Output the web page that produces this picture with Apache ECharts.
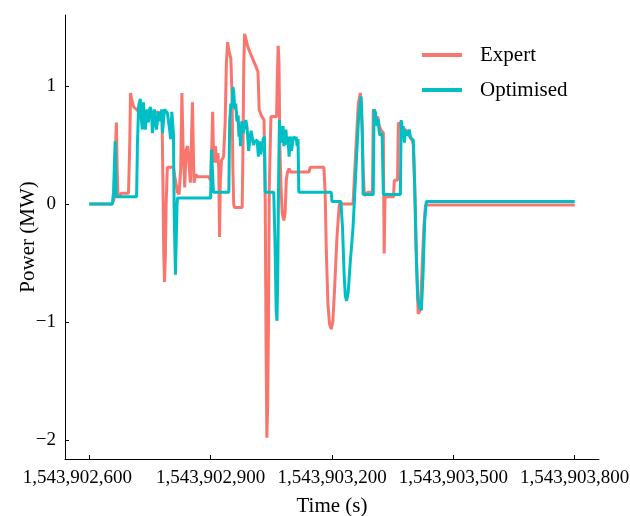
<!DOCTYPE html>
<html>
<head>
<meta charset="utf-8">
<script src="https://cdn.jsdelivr.net/npm/echarts@6/dist/echarts.min.js"></script>
<style>html,body{margin:0;padding:0;background:#fff}#c{width:630px;height:516px}</style>
</head>
<body>
<div id="c"></div>
<script>
const xTicks = [1543902600, 1543902900, 1543903200, 1543903500, 1543903800];
const yTicks = [-2, -1, 0, 1];

const expertTime = [1543902600,1543902657,1543902662,1543902665,1543902667,1543902669,1543902671,1543902677,1543902678,1543902697,1543902700,1543902702,1543902705,1543902710,1543902717,1543902722,1543902730,1543902740,1543902750,1543902760,1543902770,1543902776,1543902780,1543902782,1543902784,1543902786,1543902788,1543902790,1543902793,1543902808,1543902812,1543902818,1543902822,1543902826,1543902829,1543902832,1543902836,1543902839,1543902843,1543902847,1543902850,1543902853,1543902855,1543902857,1543902859,1543902863,1543902868,1543902895,1543902900,1543902903,1543902905,1543902907,1543902909,1543902912,1543902915,1543902918,1543902920,1543902922,1543902924,1543902927,1543902932,1543902936,1543902939,1543902942,1543902945,1543902950,1543902953,1543902955,1543902957,1543902959,1543902978,1543902980,1543902982,1543902984,1543902987,1543902992,1543902999,1543903010,1543903017,1543903020,1543903025,1543903032,1543903035,1543903037,1543903039,1543903041,1543903043,1543903045,1543903049,1543903063,1543903065,1543903067,1543903069,1543903071,1543903074,1543903077,1543903081,1543903084,1543903087,1543903090,1543903094,1543903097,1543903143,1543903146,1543903180,1543903183,1543903186,1543903190,1543903194,1543903198,1543903202,1543903206,1543903212,1543903218,1543903252,1543903258,1543903265,1543903270,1543903273,1543903277,1543903280,1543903284,1543903289,1543903300,1543903302,1543903305,1543903309,1543903313,1543903317,1543903322,1543903327,1543903328,1543903329,1543903331,1543903352,1543903354,1543903362,1543903364,1543903370,1543903376,1543903382,1543903390,1543903397,1543903401,1543903405,1543903409,1543903413,1543903418,1543903422,1543903427,1543903431,1543903800];
const expertPower = [0,0,0.05,0.5,0.69,0.3,0.06,0.07,0.09,0.09,0.5,0.94,0.88,0.82,0.8,0.78,0.79,0.77,0.75,0.77,0.78,0.76,0.72,0.2,-0.4,-0.66,-0.45,0,0.31,0.31,0.22,0.1,0.08,0.3,0.94,0.45,0.14,0.45,0.49,0.49,0.18,0.6,0.86,0.5,0.18,0.25,0.23,0.23,0.2,0.5,0.78,0.45,0.35,0.49,0.35,0.43,0.3,-0.28,0.2,0.37,0.4,0.7,1.2,1.37,1.3,1.23,0.9,0.3,0,-0.03,-0.03,0.5,1.2,1.44,1.4,1.33,1.27,1.18,1.12,0.8,0.75,0.71,0,-1.2,-1.98,-1.7,-0.99,0.14,0.74,0.74,1.1,1.34,1.2,0.5,0.14,-0.08,-0.14,-0.08,0.2,0.27,0.3,0.27,0.27,0.31,0.31,0.1,-0.4,-0.85,-1.02,-1.06,-1,-0.75,-0.3,0,0,0.4,0.85,0.94,0.8,0.3,0.07,0.08,0.1,0.1,0.8,0.78,0.72,0.74,0.66,0.62,0.6,0,-0.42,0.06,0.06,0.2,0.2,0.69,0.66,0.62,0.63,0.58,0.55,0.5,0.1,-0.5,-0.93,-0.9,-0.6,-0.2,-0.01,-0.01];

const optimisedTime = [1543902600,1543902657,1543902660,1543902664,1543902666,1543902667,1543902717,1543902719,1543902722,1543902726,1543902728,1543902731,1543902734,1543902736,1543902739,1543902741,1543902744,1543902746,1543902749,1543902751,1543902754,1543902756,1543902759,1543902761,1543902764,1543902766,1543902769,1543902771,1543902774,1543902776,1543902779,1543902781,1543902784,1543902786,1543902789,1543902793,1543902796,1543902799,1543902801,1543902804,1543902806,1543902808,1543902810,1543902813,1543902815,1543902817,1543902818,1543902900,1543902902,1543902905,1543902907,1543902945,1543902947,1543902950,1543902953,1543902955,1543902957,1543902960,1543902962,1543902965,1543902968,1543902970,1543902972,1543902974,1543902977,1543902980,1543902984,1543902987,1543902990,1543902994,1543902997,1543903000,1543903004,1543903006,1543903009,1543903012,1543903015,1543903018,1543903021,1543903024,1543903027,1543903030,1543903033,1543903035,1543903056,1543903059,1543903062,1543903064,1543903066,1543903068,1543903070,1543903072,1543903074,1543903077,1543903079,1543903081,1543903084,1543903086,1543903089,1543903091,1543903094,1543903096,1543903098,1543903100,1543903103,1543903106,1543903109,1543903111,1543903114,1543903116,1543903118,1543903198,1543903200,1543903222,1543903226,1543903230,1543903233,1543903236,1543903240,1543903245,1543903252,1543903260,1543903266,1543903272,1543903275,1543903277,1543903302,1543903304,1543903307,1543903309,1543903312,1543903314,1543903317,1543903319,1543903322,1543903324,1543903327,1543903369,1543903371,1543903374,1543903376,1543903379,1543903381,1543903384,1543903387,1543903389,1543903391,1543903394,1543903397,1543903401,1543903404,1543903408,1543903412,1543903417,1543903421,1543903425,1543903429,1543903433,1543903800];
const optimisedPower = [0,0,0.1,0.53,0.1,0.06,0.06,0.5,0.83,0.89,0.75,0.63,0.86,0.7,0.63,0.8,0.8,0.69,0.8,0.82,0.77,0.6,0.6,0.8,0.8,0.63,0.63,0.78,0.7,0.71,0.8,0.6,0.6,0.8,0.79,0.77,0.77,0.62,0.55,0.78,0.77,0.6,-0.1,-0.6,-0.3,0,0.05,0.05,0.46,0.46,0.1,0.1,0.7,0.85,0.82,0.99,0.95,0.8,0.85,0.7,0.75,0.57,0.62,0.49,0.7,0.6,0.6,0.71,0.65,0.45,0.55,0.62,0.63,0.5,0.53,0.52,0.54,0.4,0.53,0.42,0.48,0.55,0.57,0.1,0.1,-0.3,-0.9,-0.99,-0.6,0.2,0.71,0.6,0.65,0.52,0.66,0.49,0.6,0.63,0.5,0.57,0.4,0.55,0.57,0.45,0.53,0.57,0.55,0.57,0.49,0.55,0.1,0.1,0.02,0.02,-0.2,-0.6,-0.78,-0.82,-0.75,-0.5,-0.2,0.35,0.75,0.91,0.6,0.08,0.08,0.8,0.78,0.7,0.66,0.72,0.6,0.58,0.6,0.57,0.08,0.08,0.71,0.63,0.66,0.52,0.62,0.63,0.58,0.57,0.63,0.56,0.55,0.54,0.2,-0.4,-0.8,-0.88,-0.9,-0.6,-0.15,0.02,0.02];

const zip = (a, b) => a.map((t, i) => [t, b[i]]);
const FONT = 'Liberation Serif';
const chart = echarts.init(document.getElementById('c'), null, {renderer: 'canvas'});
chart.setOption({
  animation: false,
  backgroundColor: '#fff',
  grid: {left: 65, right: 31, top: 15, bottom: 57, outerBoundsMode: 'none', containLabel: false},
  legend: {
    data: [{name: 'Expert', icon: 'rect'}, {name: 'Optimised', icon: 'rect'}],
    orient: 'vertical',
    left: 422, top: 43,
    itemWidth: 40, itemHeight: 4, itemGap: 11,
    padding: 0,
    textStyle: {fontFamily: FONT, fontSize: 21, lineHeight: 24, color: '#000', padding: [0, 0, 0, 13]}
  },
  xAxis: {
    type: 'value',
    min: 1543902540, max: 1543903860,
    name: 'Time (s)', nameLocation: 'middle', nameGap: 37, nameMoveOverlap: false,
    nameTextStyle: {fontFamily: FONT, fontSize: 21, color: '#000'},
    axisLine: {onZero: false, lineStyle: {color: '#000', width: 1}},
    axisTick: {inside: true, length: 4, customValues: xTicks, lineStyle: {color: '#000'}},
    axisLabel: {customValues: xTicks, fontFamily: FONT, fontSize: 19, color: '#000', margin: 10,
      formatter: v => {
        const s = Number(v).toLocaleString('en-US');
        return v === xTicks[0] ? '{first|' + s + '}' : s;
      },
      rich: {first: {fontFamily: FONT, fontSize: 19, color: '#000', padding: [0, 24, 0, 0]}}},
    splitLine: {show: false}
  },
  yAxis: {
    type: 'value',
    min: -2.16, max: 1.60,
    name: 'Power (MW)', nameLocation: 'middle', nameGap: 26, nameMoveOverlap: false,
    nameTextStyle: {fontFamily: FONT, fontSize: 21, color: '#000'},
    axisLine: {show: true, onZero: false, lineStyle: {color: '#000', width: 1}},
    axisTick: {show: true, inside: true, length: 4, customValues: yTicks, lineStyle: {color: '#000'}},
    axisLabel: {customValues: yTicks, fontFamily: FONT, fontSize: 19, color: '#000', margin: 9,
      formatter: v => String(v).replace('-', '\u2212')},
    splitLine: {show: false}
  },
  series: [
    {name: 'Expert', type: 'line', data: zip(expertTime, expertPower), showSymbol: false, symbol: 'none',
      color: '#F8766D', lineStyle: {width: 3, color: '#F8766D'}, z: 2},
    {name: 'Optimised', type: 'line', data: zip(optimisedTime, optimisedPower), showSymbol: false, symbol: 'none',
      color: '#00BFC4', lineStyle: {width: 3, color: '#00BFC4'}, z: 3}
  ]
});
</script>
</body>
</html>
